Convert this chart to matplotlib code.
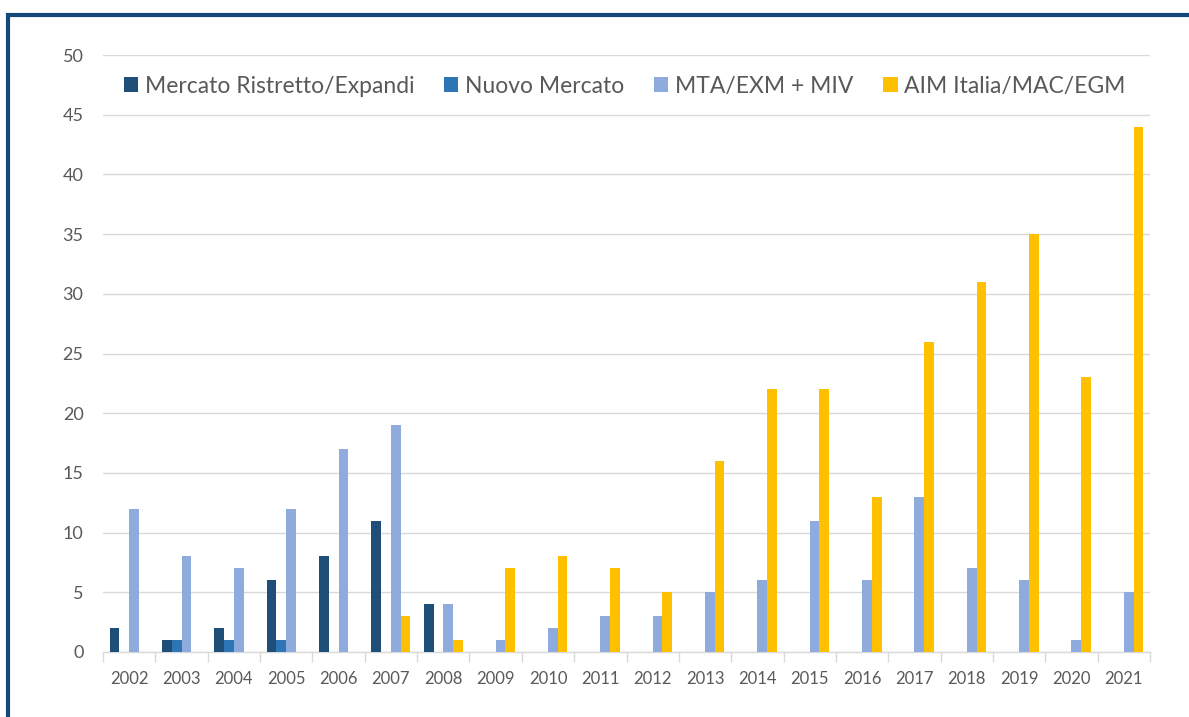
import matplotlib
matplotlib.use("Agg")
import matplotlib.pyplot as plt
import numpy as np
from matplotlib.patches import Rectangle
from matplotlib.ticker import FixedLocator, NullFormatter

years = [str(y) for y in range(2002, 2022)]
series_names = ["Mercato Ristretto/Expandi", "Nuovo Mercato", "MTA/EXM + MIV", "AIM Italia/MAC/EGM"]
mercato_ristretto = [2, 1, 2, 6, 8, 11, 4, 0, 0, 0, 0, 0, 0, 0, 0, 0, 0, 0, 0, 0]
nuovo_mercato = [0, 1, 1, 1, 0, 0, 0, 0, 0, 0, 0, 0, 0, 0, 0, 0, 0, 0, 0, 0]
mta_exm_miv = [12, 8, 7, 12, 17, 19, 4, 1, 2, 3, 3, 5, 6, 11, 6, 13, 7, 6, 1, 5]
aim_italia = [0, 0, 0, 0, 0, 3, 1, 7, 8, 7, 5, 16, 22, 22, 13, 26, 31, 35, 23, 44]
colors = ["#1F4E79", "#2E75B6", "#8FAADC", "#FFC000"]
yticks = list(range(0, 51, 5))

plt.rcParams['font.family'] = ['Lato', 'DejaVu Sans']

fig = plt.figure(figsize=(11.89, 7.17), dpi=100)
ax = fig.add_axes([103/1189, 1 - 652/717, (1150-103)/1189, (652-55)/717])

x = np.arange(len(years))
w = 0.186
data = [mercato_ristretto, nuovo_mercato, mta_exm_miv, aim_italia]
for i, (vals, c, name) in enumerate(zip(data, colors, series_names)):
    ax.bar(x + (i - 1.5) * w, vals, width=w, color=c, label=name, zorder=3)

ax.set_xlim(-0.5, len(years) - 0.5)
ax.set_ylim(0, 50)
ax.set_yticks(yticks)
ax.set_xticks(x)
ax.set_xticklabels(years)
ax.xaxis.set_minor_locator(FixedLocator(np.arange(-0.5, len(years), 1.0)))
ax.xaxis.set_minor_formatter(NullFormatter())
ax.tick_params(axis='x', which='major', length=0, pad=14, labelsize=12, labelcolor='#595959')
ax.tick_params(axis='x', which='minor', length=7, width=1, color='#D9D9D9')
ax.tick_params(axis='y', length=0, pad=14, labelsize=13, labelcolor='#595959')
ax.grid(axis='y', color='#D9D9D9', linewidth=1, zorder=0)
for s in ['top', 'right', 'left']:
    ax.spines[s].set_visible(False)
ax.spines['bottom'].set_color('#D9D9D9')
ax.spines['bottom'].set_linewidth(1)

leg = ax.legend(loc='upper left', bbox_to_anchor=(0.0, 1.0), ncol=4, frameon=False,
                fontsize=16.5, handlelength=0.62, handleheight=0.62, handletextpad=0.3,
                columnspacing=1.3, labelcolor='#595959')

fig.patches.append(Rectangle((8/1189, -0.1), 1.2, 1 - 15/717 + 0.1, transform=fig.transFigure,
                             fill=False, edgecolor='#12497A', linewidth=3, zorder=10))

fig.savefig("out.png", dpi=100)
